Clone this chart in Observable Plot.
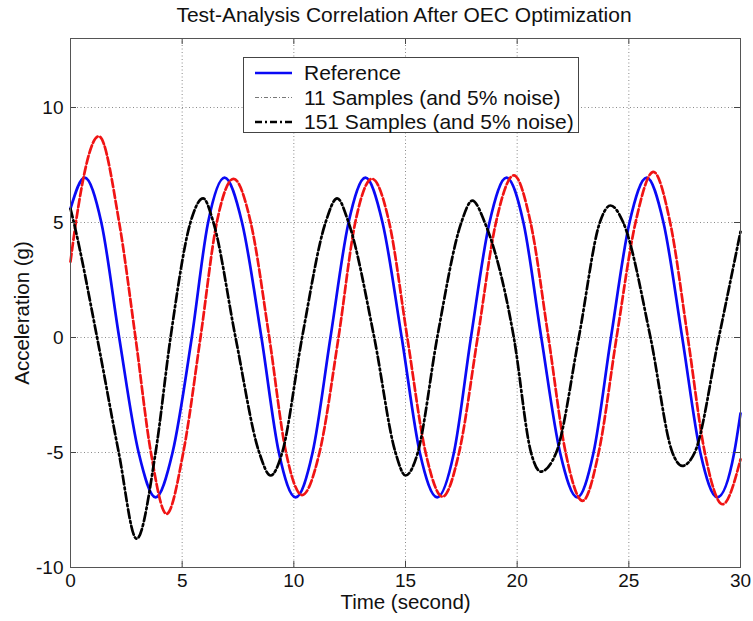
<!DOCTYPE html>
<html>
<head>
<meta charset="utf-8">
<script src="https://cdn.jsdelivr.net/npm/d3@7"></script>
<script src="https://cdn.jsdelivr.net/npm/@observablehq/plot@0.6"></script>
<style>
  html, body { margin: 0; padding: 0; background: #fff; }
  #wrap { position: relative; width: 753px; height: 621px; font-family: "Liberation Sans", Arial, sans-serif; }
  #title { position: absolute; top: 5px; left: 404px; transform: translateX(-50%); white-space: nowrap; font-size: 21px; line-height: 20px; color: #111; }
  #chart { position: absolute; top: 30px; left: 0; }
  #legend { position: absolute; left: 243px; top: 57px; }
</style>
</head>
<body>
<div id="wrap">
  <div id="title">Test-Analysis Correlation After OEC Optimization</div>
  <div id="chart"></div>
  <div id="legend"></div>
</div>
<script>
// ---- Data ----
// Reference (blue solid)
const refTime  = [0, 0.63, 1.38, 2.18, 3.05, 3.81, 4.57, 5.43, 6.16, 6.9, 7.68, 8.55, 9.33, 10.08, 10.84, 11.64, 12.45, 13.21, 13.97, 14.83, 15.64, 16.42, 17.17, 17.93, 18.76, 19.52, 20.28, 21.08, 21.92, 22.69, 23.42, 24.2, 25.03, 25.8, 26.55, 27.39, 28.2, 28.96, 29.72, 30];
const refAccel = [5.6, 6.95, 5, 0, -5, -6.95, -5, 0, 5, 6.95, 5, 0, -5, -6.95, -5, 0, 5, 6.95, 5, 0, -5, -6.95, -5, 0, 5, 6.95, 5, 0, -5, -6.95, -5, 0, 5, 6.95, 5, 0, -5, -6.95, -5, -3.3];
// Red dashed curve
const redTime  = [0, 0.24, 1.27, 2.18, 2.91, 3.6, 4.3, 5.05, 5.82, 6.55, 7.3, 8.07, 8.9, 9.65, 10.37, 11.15, 12.0, 12.75, 13.5, 14.27, 15.08, 15.9, 16.66, 17.4, 18.23, 19.05, 19.85, 20.6, 21.4, 22.17, 22.93, 23.65, 24.45, 25.3, 26.1, 26.85, 27.64, 28.4, 29.2, 30];
const redAccel = [3.3, 5, 8.75, 5, 0, -5, -7.67, -5, 0, 5, 6.9, 5, 0, -5, -6.85, -5, 0, 5, 6.9, 5, 0, -5, -6.92, -5, 0, 5, 7.05, 5, 0, -5, -7.1, -5, 0, 5, 7.2, 5, 0, -5, -7.25, -5.3];
// 151 Samples (and 5% noise) (black thick dash-dot)
const s151Time  = [0, 0.15, 1.19, 2.16, 2.96, 3.81, 4.48, 5.37, 5.94, 6.4, 7.39, 8.45, 8.96, 9.48, 10.37, 11.42, 11.94, 12.45, 13.6, 14.55, 15.0, 15.55, 16.42, 17.5, 17.99, 18.55, 19.85, 20.62, 21.05, 21.75, 22.76, 23.7, 24.18, 24.75, 25.97, 26.95, 27.39, 27.95, 29.03, 30];
const s151Accel = [5.6, 5, 0, -5, -8.75, -5, 0, 5, 6.05, 5, 0, -5, -6.0, -5, 0, 5, 6.05, 5, 0, -5, -6.0, -5, 0, 5, 5.95, 5, 0, -5, -5.83, -5, 0, 5, 5.74, 5, 0, -5, -5.58, -5, 0, 4.6];

const xTicks = [0, 5, 10, 15, 20, 25, 30];
const yTicks = [-10, -5, 0, 5, 10];
const legendLabels = ["Reference", "11 Samples (and 5% noise)", "151 Samples (and 5% noise)"];
const xLabel = "Time (second)";
const yLabel = "Acceleration (g)";

// ---- Build tables ----
const toRows = (ts, vs) => ts.map((t, i) => ({t, v: vs[i]}));
const refRows = toRows(refTime, refAccel);
const redRows = toRows(redTime, redAccel);
const s151Rows = toRows(s151Time, s151Accel);

const W = 753, H = 591, mL = 70, mR = 13, mT = 8, mB = 54;
const frameW = W - mL - mR, frameH = H - mT - mB;
const font = "Liberation Sans, Arial, sans-serif";
const hyphenFmt = d => String(d);

const chart = Plot.plot({
  width: W, height: H,
  marginLeft: mL, marginRight: mR, marginTop: mT, marginBottom: mB,
  x: {domain: [0, 30]},
  y: {domain: [-10, 13]},
  style: {fontFamily: font, fontSize: "19px", background: "white", color: "#111"},
  marks: [
    Plot.gridX(xTicks, {stroke: "#8a8a8a", strokeOpacity: 1, strokeDasharray: "1,2.5", strokeWidth: 1}),
    Plot.gridY(yTicks, {stroke: "#8a8a8a", strokeOpacity: 1, strokeDasharray: "1,2.5", strokeWidth: 1}),
    Plot.line(refRows, {x: "t", y: "v", stroke: "#0a0af5", strokeWidth: 2.7, curve: "monotone-x"}),
    Plot.line(redRows, {x: "t", y: "v", stroke: "#f01414", strokeWidth: 2.7, strokeDasharray: "8,3", curve: "monotone-x"}),
    Plot.line(s151Rows, {x: "t", y: "v", stroke: "#000", strokeWidth: 2.7, strokeDasharray: "9,3,2,3", curve: "monotone-x"}),
    // inward ticks (MATLAB style) on all four sides
    Plot.tickX(xTicks, {x: d => d, insetTop: frameH - 6, stroke: "#444"}),
    Plot.tickX(xTicks, {x: d => d, insetBottom: frameH - 6, stroke: "#444"}),
    Plot.tickY(yTicks, {y: d => d, insetRight: frameW - 6, stroke: "#444"}),
    Plot.tickY(yTicks, {y: d => d, insetLeft: frameW - 6, stroke: "#444"}),
    Plot.axisX(xTicks, {tickSize: 0, tickPadding: 6, label: null, fontSize: 19, tickFormat: hyphenFmt}),
    Plot.axisY(yTicks, {tickSize: 0, tickPadding: 7, label: null, fontSize: 19, tickFormat: hyphenFmt}),
    Plot.text([xLabel], {text: d => d, frameAnchor: "bottom", dy: 41, fontSize: 20.5}),
    Plot.text([yLabel], {text: d => d, frameAnchor: "left", textAnchor: "middle", rotate: -90, dx: -48, dy: 10, fontSize: 20.5}),
    Plot.frame({stroke: "#555", strokeWidth: 1})
  ]
});
document.getElementById("chart").appendChild(chart);

// ---- Legend box (inside the axes, as in the reference) ----
const lw = 336, lh = 76;
const lg = d3.select("#legend").append("svg").attr("width", lw).attr("height", lh)
  .style("font-family", font);
lg.append("rect").attr("x", 0.5).attr("y", 0.5).attr("width", lw - 1).attr("height", lh - 1)
  .attr("fill", "white").attr("stroke", "#444").attr("stroke-width", 1);
const legendStyles = [
  {stroke: "#0a0af5", width: 2.7, dash: null},
  {stroke: "#555", width: 0.8, dash: "4,2,1,2"},
  {stroke: "#000", width: 2.7, dash: "7,3,2,3"}
];
const rowY = [16, 40.5, 65];
legendLabels.forEach((lab, i) => {
  const s = legendStyles[i];
  const ln = lg.append("line").attr("x1", 12).attr("x2", 49).attr("y1", rowY[i]).attr("y2", rowY[i])
    .attr("stroke", s.stroke).attr("stroke-width", s.width);
  if (s.dash) ln.attr("stroke-dasharray", s.dash);
  lg.append("text").attr("x", 61).attr("y", rowY[i]).attr("dy", "0.35em")
    .attr("font-size", 21).attr("fill", "#111").text(lab);
});
</script>
</body>
</html>
